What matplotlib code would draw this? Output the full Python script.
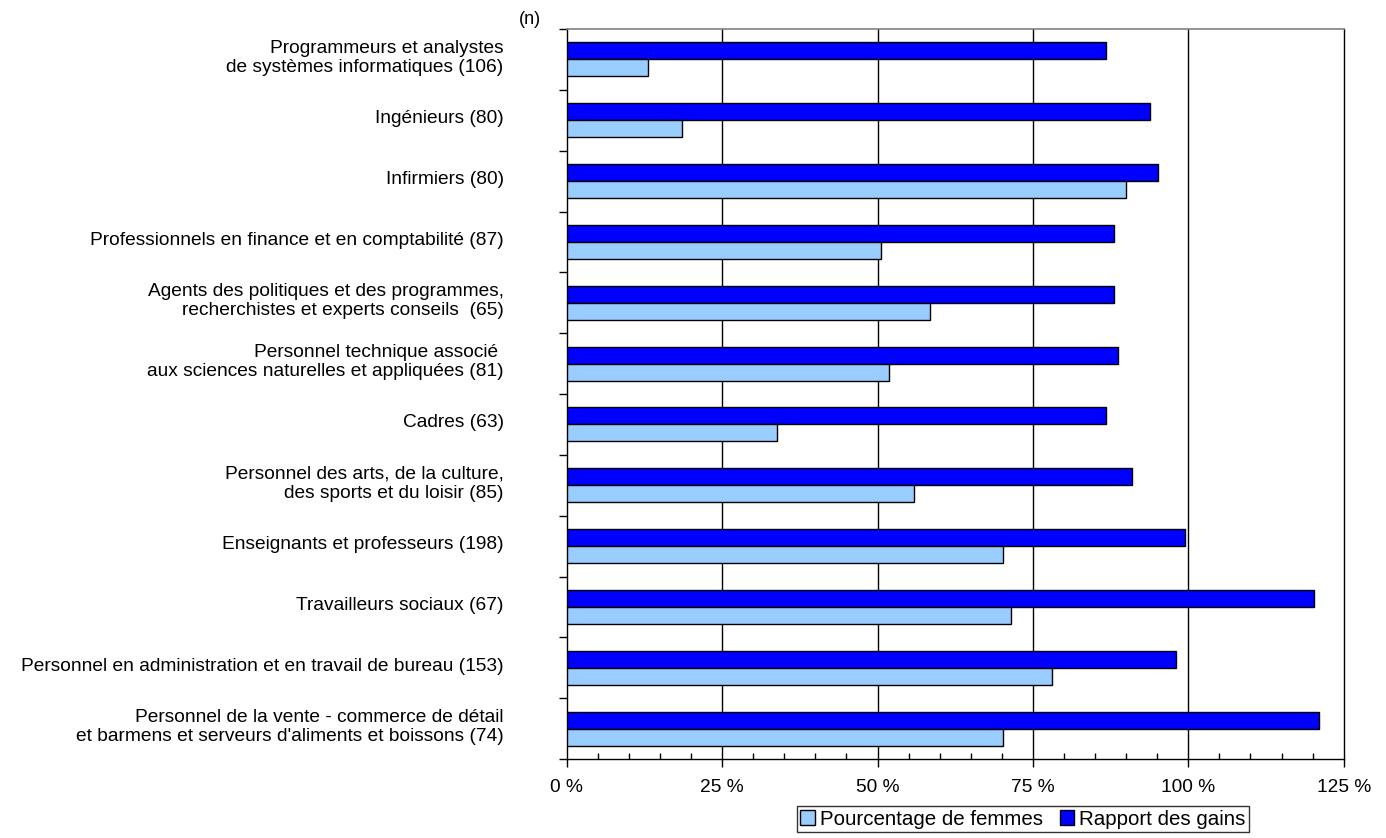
import matplotlib
matplotlib.use("Agg")
import matplotlib.pyplot as plt
import numpy as np
from matplotlib.ticker import MultipleLocator, FuncFormatter
from matplotlib.patches import Patch
from matplotlib.transforms import blended_transform_factory, ScaledTranslation

plt.rcParams['font.family'] = ['Liberation Sans', 'DejaVu Sans']

categories = [
    "Programmeurs et analystes\nde systèmes informatiques (106)",
    "Ingénieurs (80)",
    "Infirmiers (80)",
    "Professionnels en finance et en comptabilité (87)",
    "Agents des politiques et des programmes,\nrecherchistes et experts conseils  (65)",
    "Personnel technique associé \naux sciences naturelles et appliquées (81)",
    "Cadres (63)",
    "Personnel des arts, de la culture,\ndes sports et du loisir (85)",
    "Enseignants et professeurs (198)",
    "Travailleurs sociaux (67)",
    "Personnel en administration et en travail de bureau (153)",
    "Personnel de la vente - commerce de détail\net barmens et serveurs d'aliments et boissons (74)",
]
pct_femmes = [13.1, 18.6, 89.9, 50.5, 58.5, 51.8, 33.9, 55.8, 70.2, 71.4, 78.0, 70.2]
rapport_gains = [86.8, 93.8, 95.1, 88.0, 88.0, 88.7, 86.8, 90.9, 99.4, 120.3, 98.1, 121.0]
series_names = ["Pourcentage de femmes", "Rapport des gains"]
xticks = [0, 25, 50, 75, 100, 125]

light = "#99CCFF"
dark = "#0000FF"

fig = plt.figure(figsize=(13.86, 8.38), dpi=100)
ax = fig.add_axes([566.7/1386, 1-759/838, (1343.7-566.7)/1386, (759-29)/838])

n = len(categories)
y = np.arange(n)
h = 0.28
ax.barh(y - h/2, rapport_gains, height=h, color=dark, edgecolor='black', linewidth=1.0, zorder=3)
ax.barh(y + h/2, pct_femmes, height=h, color=light, edgecolor='black', linewidth=1.0, zorder=3)

ax.set_xlim(0, 125)
ax.set_ylim(n - 0.5, -0.5)

for v in xticks[1:-1]:
    ax.axvline(v, color='black', linewidth=1.0, zorder=1)

ax.set_xticks(xticks)
ax.xaxis.set_major_formatter(FuncFormatter(lambda v, p: f"{int(v)} %"))
ax.xaxis.set_minor_locator(MultipleLocator(5))
ax.tick_params(axis='x', which='major', direction='out', length=5.5, width=1, labelsize=13.8, pad=9)
ax.tick_params(axis='x', which='minor', direction='in', length=4.5, width=1)

ax.set_yticks(np.arange(-0.5, n, 1.0))
ax.set_yticklabels([])
ax.tick_params(axis='y', which='major', direction='out', length=6, width=1)

trans = blended_transform_factory(ax.transAxes, ax.transData) + \
    ScaledTranslation(-63/100, 1.5/100, fig.dpi_scale_trans)
for yi, lab in zip(y, categories):
    ax.text(0, yi, lab, transform=trans, ha='right', va='center', fontsize=13.8,
            linespacing=1.12, multialignment='right')

for s in ['left', 'bottom', 'right']:
    ax.spines[s].set_color('black')
    ax.spines[s].set_linewidth(1.0)
ax.spines['top'].set_color('#808080')
ax.spines['top'].set_linewidth(1.2)

fig.text(530/1386, 1-19/838, "(n)", fontsize=13, ha='center', va='center')

handles = [Patch(facecolor=light, edgecolor='black', label=series_names[0]),
           Patch(facecolor=dark, edgecolor='black', label=series_names[1])]
leg = fig.legend(handles=handles, loc='center', bbox_to_anchor=(1023/1386, 1-819/838),
                 ncol=2, frameon=True, fancybox=False, fontsize=14.8,
                 handlelength=0.72, handleheight=0.72, handletextpad=0.25, columnspacing=0.8,
                 borderpad=0.15, borderaxespad=0)
leg.get_frame().set_edgecolor('black')
leg.get_frame().set_linewidth(1.0)

fig.savefig("out.png", dpi=100)
